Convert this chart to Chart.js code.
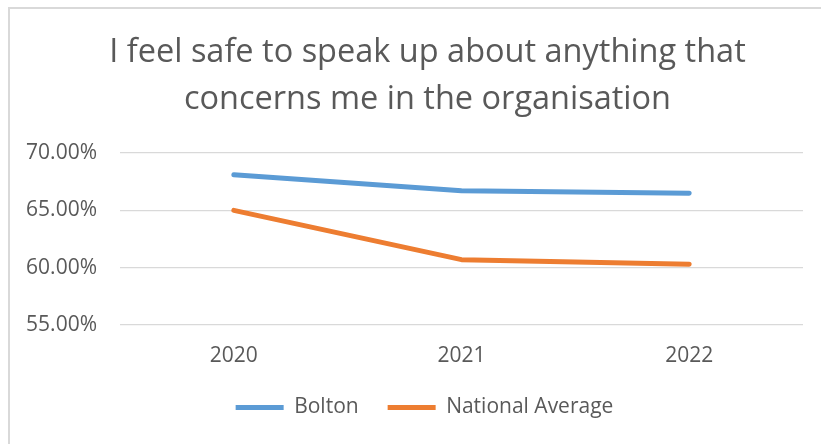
<!DOCTYPE html>
<html lang="en">
<head>
  <meta charset="UTF-8">
  <title>Speak up survey</title>
  <script src="https://cdn.jsdelivr.net/npm/chart.js"></script>
  <style>
    body {
      margin: 0;
      background: #ffffff;
      width: 821px;
      height: 444px;
      overflow: hidden;
      position: relative;
    }
    .frame {
      position: absolute;
      left: 8px;
      top: 7px;
      width: 840px;
      height: 470px;
      border: 2px solid #d9d9d9;
    }
    #grafico {
      position: absolute;
      left: 0;
      top: 0;
    }
  </style>
</head>
<body>
  <div class="frame"></div>
  <canvas id="grafico" width="821" height="444"></canvas>

  <script>
    const anos = ['2020', '2021', '2022'];
    const bolton = [68.1, 66.7, 66.5];
    const mediaNacional = [65.0, 60.7, 60.3];
    const tituloLinhas = ['I feel safe to speak up about anything that', 'concerns me in the organisation'];

    const fonte = "'Open Sans', sans-serif";
    const cinza = '#595959';

    // desloca título e legenda para a direita (centro da moldura, não do canvas)
    const deslocarBlocos = {
      id: 'deslocarBlocos',
      afterLayout(chart) {
        const t = chart.titleBlock;
        if (t) { t.left += 26; t.right += 26; }
        const l = chart.legend;
        if (l) { l.left += 23; l.right += 23; }
      }
    };

    new Chart(document.getElementById('grafico'), {
      type: 'line',
      data: {
        labels: anos,
        datasets: [{
          label: 'Bolton',
          data: bolton,
          borderColor: '#5b9bd5',
          backgroundColor: '#5b9bd5',
          borderWidth: 5,
          borderCapStyle: 'round',
          borderJoinStyle: 'round',
          pointRadius: 0,
          tension: 0
        },
        {
          label: 'National Average',
          data: mediaNacional,
          borderColor: '#ed7d31',
          backgroundColor: '#ed7d31',
          borderWidth: 5,
          borderCapStyle: 'round',
          borderJoinStyle: 'round',
          pointRadius: 0,
          tension: 0
        }]
      },
      plugins: [deslocarBlocos],
      options: {
        responsive: false,
        animation: false,
        layout: { padding: { left: 0, right: 18, top: 0, bottom: 16 } },
        plugins: {
          title: {
            display: true,
            text: tituloLinhas,
            color: cinza,
            font: { family: fonte, size: 32.5, weight: 'normal', lineHeight: 47 / 32.5 },
            padding: { top: 29.5, bottom: 29.5 }
          },
          legend: {
            position: 'bottom',
            labels: {
              color: cinza,
              font: { family: fonte, size: 21 },
              usePointStyle: true,
              pointStyle: 'line',
              pointStyleWidth: 48,
              padding: 29
            }
          },
          tooltip: { enabled: false }
        },
        scales: {
          x: {
            offset: true,
            grid: { display: false, drawTicks: false },
            border: { display: false },
            ticks: { color: cinza, font: { family: fonte, size: 21 }, padding: 18 },
            afterFit: function(scale) { scale.height = 43; }
          },
          y: {
            min: 55,
            max: 70,
            grid: { color: '#d9d9d9', lineWidth: 1.3, drawTicks: false },
            border: { display: false },
            ticks: {
              stepSize: 5,
              color: cinza,
              padding: 23,
              font: { family: fonte, size: 21 },
              callback: function(value) {
                return value.toFixed(2) + '%';
              }
            },
            afterFit: function(scale) { scale.width = 120; }
          }
        }
      }
    });
  </script>
</body>
</html>
